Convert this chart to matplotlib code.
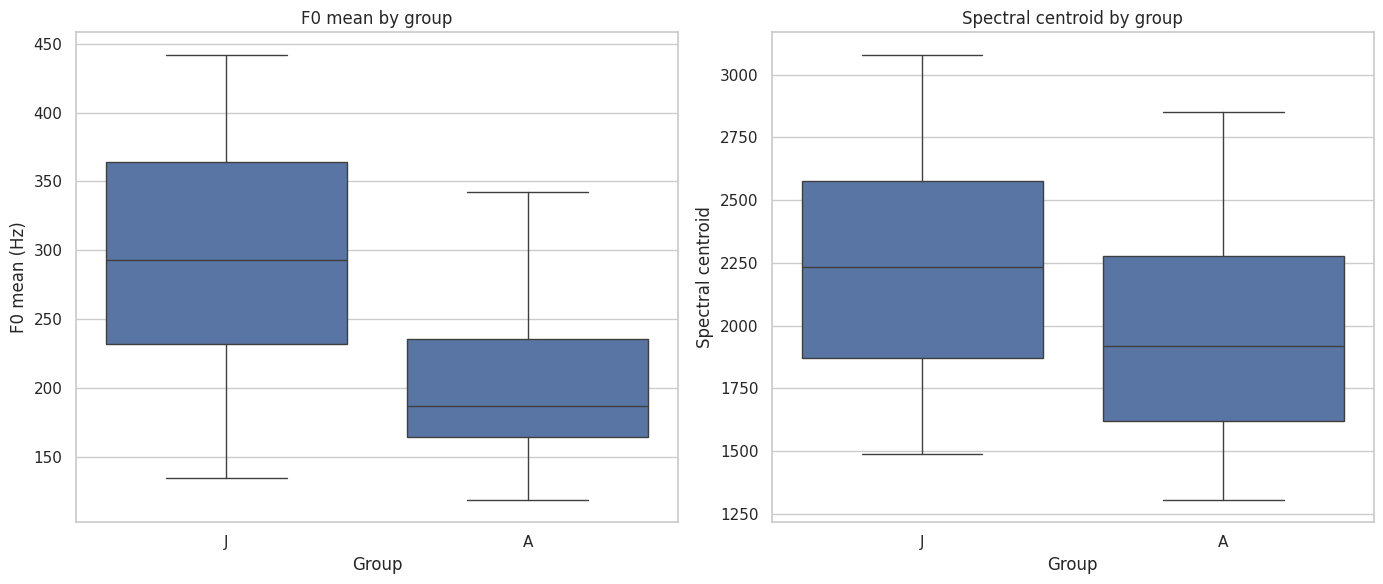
import matplotlib
matplotlib.use('Agg')
import matplotlib.pyplot as plt
import seaborn as sns

sns.set_theme(style='whitegrid')

groups = ['J', 'A']

# five-number summaries: low whisker, q1, median, q3, high whisker
f0_low = [135, 119]
f0_q1 = [232, 165]
f0_med = [293, 187]
f0_q3 = [364, 236]
f0_high = [442, 342]

sc_low = [1487, 1305]
sc_q1 = [1870, 1620]
sc_med = [2235, 1920]
sc_q3 = [2575, 2278]
sc_high = [3080, 2850]

box_color = '#5975a4'
line_color = '#3f3f3f'


def make_stats(low, q1, med, q3, high):
    stats = []
    for g, a, b, c, d, e in zip(groups, low, q1, med, q3, high):
        stats.append({'label': g, 'whislo': a, 'q1': b, 'med': c,
                      'q3': d, 'whishi': e, 'fliers': []})
    return stats


def draw(ax, stats, title, ylabel):
    ax.bxp(stats, positions=range(len(stats)), widths=0.8, patch_artist=True,
           showfliers=False, capwidths=0.4,
           boxprops=dict(facecolor=box_color, edgecolor=line_color, linewidth=1.0),
           medianprops=dict(color=line_color, linewidth=1.0),
           whiskerprops=dict(color=line_color, linewidth=1.0),
           capprops=dict(color=line_color, linewidth=1.0))
    ax.set_xlim(-0.5, len(stats) - 0.5)
    ax.set_title(title)
    ax.set_xlabel('Group')
    ax.set_ylabel(ylabel)
    ax.xaxis.grid(False)
    ax.set_axisbelow(True)


fig, (ax1, ax2) = plt.subplots(1, 2, figsize=(14, 6), dpi=100)

draw(ax1, make_stats(f0_low, f0_q1, f0_med, f0_q3, f0_high),
     'F0 mean by group', 'F0 mean (Hz)')
draw(ax2, make_stats(sc_low, sc_q1, sc_med, sc_q3, sc_high),
     'Spectral centroid by group', 'Spectral centroid')

plt.tight_layout()
plt.savefig('out.png', dpi=100, bbox_inches='tight')
